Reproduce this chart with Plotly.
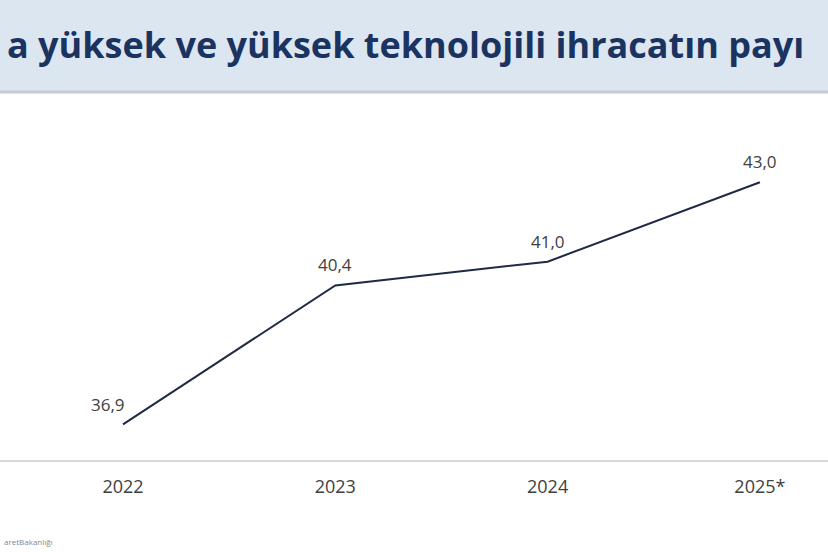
import plotly.graph_objects as go

# values
years = ["2022", "2023", "2024", "2025*"]
share = [36.9, 40.4, 41.0, 43.0]
share_labels = ["36,9", "40,4", "41,0", "43,0"]

TITLE = "a yüksek ve yüksek teknolojili ihracatın payı"
SOURCE = "aretBakanlığı"

W, H = 828, 552
PLOT_BOTTOM = 460  # px from top where the axis line sits
FIRST_X, STEP_X = 123, 212.3  # px of first category and spacing
PX_PER_UNIT = 39.67

LABEL_FONT = dict(family="Open Sans", size=17, color="#404040")


def paper_y(px):
    """Convert pixel row (from top) to paper y of the plot area."""
    return (PLOT_BOTTOM - px) / PLOT_BOTTOM


xs = list(range(len(years)))

fig = go.Figure()
fig.add_trace(
    go.Scatter(
        x=xs,
        y=share,
        mode="lines",
        line=dict(color="#1f2a44", width=2),
        hoverinfo="skip",
    )
)

# data labels: first one sits to the upper left, the rest above the point
for i, (v, lab) in enumerate(zip(share, share_labels)):
    first = i == 0
    fig.add_annotation(
        x=xs[i], y=v, text=lab, showarrow=False,
        xanchor="right" if first else "center", yanchor="bottom",
        xshift=4 if first else 0, yshift=6 if first else 7,
        font=LABEL_FONT,
    )

# title band
fig.add_shape(type="rect", xref="paper", yref="paper",
              x0=0, x1=1, y0=paper_y(91), y1=1,
              fillcolor="#dce6f1", line_width=0, layer="below")
fig.add_shape(type="line", xref="paper", yref="paper",
              x0=0, x1=1, y0=paper_y(92), y1=paper_y(92),
              line=dict(color="#c4cbd5", width=3), layer="below")

fig.add_annotation(text=TITLE, xref="paper", yref="paper",
                   x=806 / W, y=paper_y(44), xanchor="right", yanchor="middle",
                   showarrow=False,
                   font=dict(family="Open Sans", size=36, color="#1b3360", weight="bold"))
fig.add_annotation(text=SOURCE, xref="paper", yref="paper",
                   x=2 / W, y=paper_y(541), xanchor="left", yanchor="middle",
                   showarrow=False,
                   font=dict(family="Open Sans", size=8, color="#7f8799"))

fig.update_layout(
    width=W, height=H,
    margin=dict(l=0, r=0, t=0, b=H - PLOT_BOTTOM),
    paper_bgcolor="white", plot_bgcolor="white",
    showlegend=False,
    xaxis=dict(
        range=[-FIRST_X / STEP_X, (W - FIRST_X) / STEP_X],
        tickvals=xs, ticktext=years,
        showgrid=False, zeroline=False,
        showline=True, linecolor="#d9d9d9", linewidth=2,
        tickfont=dict(family="Open Sans", size=18, color="#404040"),
        ticklabelstandoff=9,
    ),
    yaxis=dict(
        range=[36, 36 + PLOT_BOTTOM / PX_PER_UNIT],
        visible=False,
    ),
)

fig.write_html("out.html", config={"displayModeBar": False},
               post_script="document.body.style.margin='0';")
